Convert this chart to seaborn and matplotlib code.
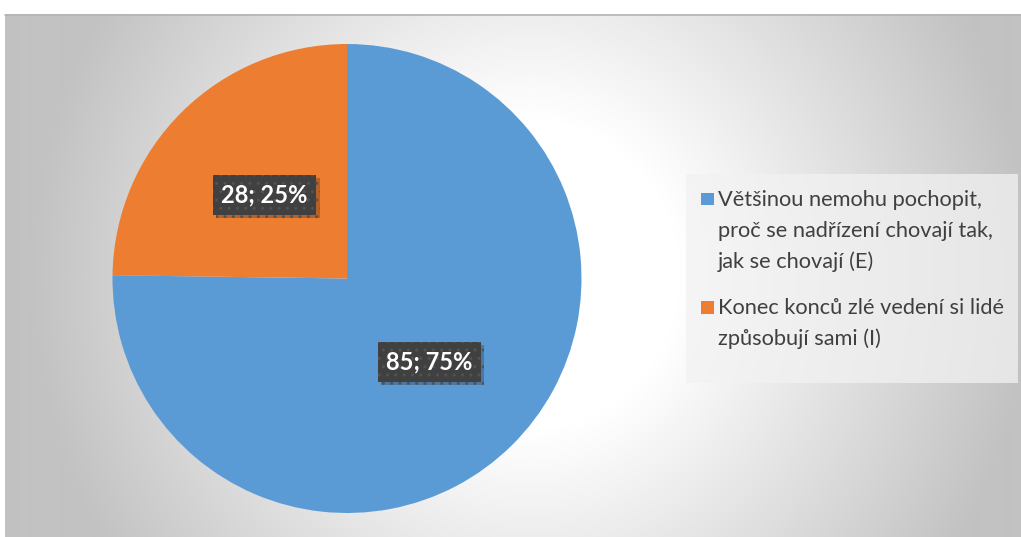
import numpy as np
import matplotlib
matplotlib.use("Agg")
import matplotlib.pyplot as plt
import matplotlib.patheffects as pe
from matplotlib.patches import Rectangle
import seaborn as sns

# ---- data ----
categories = [
    "Většinou nemohu pochopit,\nproč se nadřízení chovají tak,\njak se chovají (E)",
    "Konec konců zlé vedení si lidé\nzpůsobují sami (I)",
]
values = [85, 28]
colors = ["#5B9BD5", "#ED7D31"]

sns.set_theme(style="white")
plt.rcParams["font.family"] = ["Lato", "DejaVu Sans"]

W, H = 1021, 537
fig = plt.figure(figsize=(W / 100, H / 100), dpi=100, facecolor="white")

# ---- background gradient (chart area) ----
x0, y0 = 5, 14  # chart area starts (pixels from left/top)
bg = fig.add_axes([x0 / W, 0, (W - x0) / W, (H - y0) / H], zorder=0)
xs = np.arange(x0, W) + 0.5
ys = np.arange(y0, H) + 0.5
X, Y = np.meshgrid(xs, ys)
d = np.sqrt(((X - 530) / 500.0) ** 2 + ((Y - 275) / 522.0) ** 2)
f = np.clip((d - 0.3) / 0.7, 0, 1)
v = (255 - 61 * f) / 255.0
img = np.dstack([v, v, v])
bg.imshow(img, aspect="auto", extent=[0, 1, 0, 1], interpolation="bilinear")
bg.set_xlim(0, 1)
bg.set_ylim(0, 1)
bg.axis("off")
bg.plot([0, 1], [0.999, 0.999], color="#b4b4b4", lw=1.2, transform=bg.transAxes, clip_on=False)

# ---- pie ----
cx, cy, r = 347, 537 - 278.5, 234.5
ax = fig.add_axes([(cx - r) / W, (cy - r) / H, 2 * r / W, 2 * r / H], zorder=2)
total = sum(values)
palette = sns.color_palette(colors)
wedges, texts, autotexts = ax.pie(
    values,
    colors=palette,
    startangle=90,
    counterclock=False,
    autopct=lambda p: f"{round(p * total / 100)}; {p:.0f}%",
    pctdistance=0.5,
    wedgeprops=dict(linewidth=0),
    textprops=dict(color="white", fontsize=17, fontweight="bold"),
)
ax.set_xlim(-1, 1)
ax.set_ylim(-1, 1)
ax.set_aspect("equal")
ax.axis("off")
for t in autotexts:
    t.set_bbox(dict(boxstyle="square,pad=0.36", facecolor="#404040",
                    edgecolor="#525252", hatch="..", linewidth=0))
    t.get_bbox_patch().set_path_effects([
        pe.withSimplePatchShadow(offset=(2.5, -2.5), shadow_rgbFace="black", alpha=0.22),
    ])

# ---- legend (manual, Excel style) ----
lx0, ly0, lx1, ly1 = 686, 174, 1018, 383
fig.patches.append(Rectangle((lx0 / W, 1 - ly1 / H), (lx1 - lx0) / W, (ly1 - ly0) / H,
                             transform=fig.transFigure, facecolor="#f2f2f2", alpha=0.75,
                             edgecolor="none", zorder=3))
item_baselines = [205.5, 314]
line_gap = 31
for lab, col, base in zip(categories, colors, item_baselines):
    fig.patches.append(Rectangle((701 / W, 1 - (base - 0.5) / H), 12.5 / W, 12.5 / H,
                                 transform=fig.transFigure, facecolor=col,
                                 edgecolor="none", zorder=4))
    for i, line in enumerate(lab.split("\n")):
        fig.text(718 / W, 1 - (base + i * line_gap) / H, line, fontsize=15.7,
                 color="#404040", ha="left", va="baseline", zorder=5)

fig.savefig("out.png", dpi=100, facecolor="white")
